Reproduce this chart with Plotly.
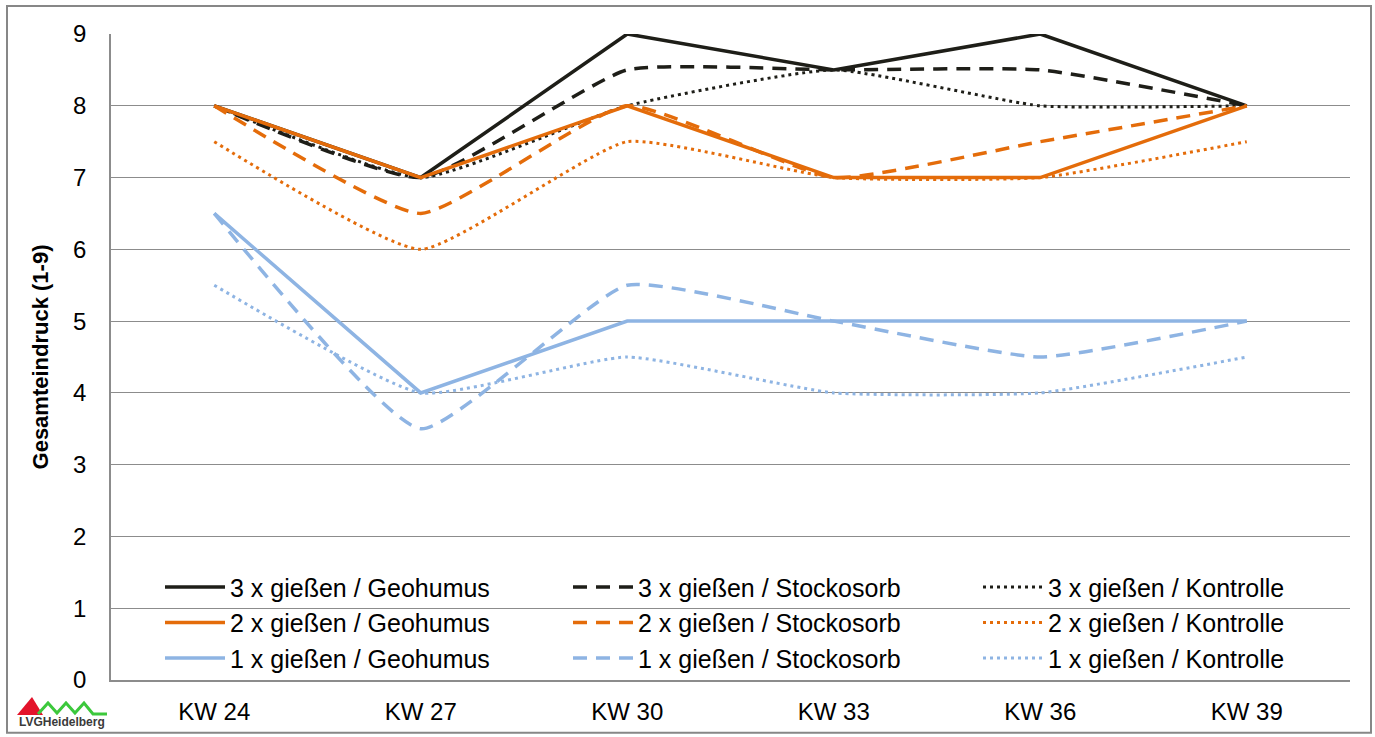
import plotly.graph_objects as go

weeks = ["KW 24", "KW 27", "KW 30", "KW 33", "KW 36", "KW 39"]

g3_geohumus = [8, 7, 9, 8.5, 9, 8]
g3_stockosorb = [8, 7, 8.5, 8.5, 8.5, 8]
g3_kontrolle = [8, 7, 8, 8.5, 8, 8]
g2_geohumus = [8, 7, 8, 7, 7, 8]
g2_stockosorb = [8, 6.5, 8, 7, 7.5, 8]
g2_kontrolle = [7.5, 6, 7.5, 7, 7, 7.5]
g1_geohumus = [6.5, 4, 5, 5, 5, 5]
g1_stockosorb = [6.5, 3.5, 5.5, 5, 4.5, 5]
g1_kontrolle = [5.5, 4, 4.5, 4, 4, 4.5]

names = [
    "3 x gießen / Geohumus", "3 x gießen / Stockosorb", "3 x gießen / Kontrolle",
    "2 x gießen / Geohumus", "2 x gießen / Stockosorb", "2 x gießen / Kontrolle",
    "1 x gießen / Geohumus", "1 x gießen / Stockosorb", "1 x gießen / Kontrolle",
]
series = [g3_geohumus, g3_stockosorb, g3_kontrolle,
          g2_geohumus, g2_stockosorb, g2_kontrolle,
          g1_geohumus, g1_stockosorb, g1_kontrolle]

BLACK = "#1E1E18"
ORANGE = "#E46C0A"
BLUE = "#8EB4E3"
colors = [BLACK] * 3 + [ORANGE] * 3 + [BLUE] * 3
styles = ["solid", "dash", "dot"] * 3
legends = ["legend", "legend2", "legend3"] * 3

W, H = 1375, 737
L, R, T, B = 111, 25, 34, 55
PW, PH = W - L - R, H - T - B


def px(x):
    return (x - L) / PW


def py(y):
    return (H - B - y) / PH


fig = go.Figure()
for i, (nm, vals) in enumerate(zip(names, series)):
    st = styles[i]
    if st == "solid":
        line = dict(color=colors[i], width=3.5, shape="linear")
    elif st == "dash":
        line = dict(color=colors[i], width=3.5, dash="14px,9px", shape="spline", smoothing=0.45)
    else:
        line = dict(color=colors[i], width=3, dash="3px,4px", shape="spline", smoothing=0.45)
    fig.add_trace(go.Scatter(
        x=weeks, y=vals, mode="lines", name=nm, line=line,
        legend=legends[i], legendgroup=nm, hoverinfo="skip",
    ))

FONT = "Liberation Sans, Arial, sans-serif"
leg_common = dict(
    orientation="v", xanchor="left", yanchor="top", y=py(566),
    bgcolor="rgba(0,0,0,0)", font=dict(family=FONT, size=25, color="#000000"),
    tracegroupgap=12.5, itemwidth=60, traceorder="normal",
)

shapes = [
    # outer frame
    dict(type="rect", xref="paper", yref="paper", x0=px(7), x1=px(1371), y0=py(735), y1=py(6),
         line=dict(color="#878787", width=2), fillcolor="rgba(0,0,0,0)", layer="below"),
    # logo triangle
    dict(type="path", xref="paper", yref="paper",
         path=f"M {px(17)},{py(717)} L {px(32)},{py(699)} L {px(43)},{py(717)} Z",
         fillcolor="#E3132B", line=dict(width=0)),
    # logo zigzag
    dict(type="path", xref="paper", yref="paper",
         path=(f"M {px(38)},{py(716)} L {px(48)},{py(705)} L {px(57)},{py(715)} L {px(66)},{py(705)} "
               f"L {px(75)},{py(715)} L {px(84)},{py(705)} L {px(93)},{py(716)} L {px(107)},{py(716)}"),
         line=dict(color="#3CC83C", width=3)),
]

fig.update_layout(
    width=W, height=H,
    margin=dict(l=L, r=R, t=T, b=B),
    paper_bgcolor="white", plot_bgcolor="white",
    font=dict(family=FONT, size=24, color="#000000"),
    legend=dict(x=px(160), **leg_common),
    legend2=dict(x=px(568), **leg_common),
    legend3=dict(x=px(978), **leg_common),
    xaxis=dict(
        type="category", range=[-0.5, 5.5], showgrid=False,
        showline=True, linecolor="#8C8C8C", linewidth=1.5, ticks="",
        tickfont=dict(family=FONT, size=24, color="#000000"), ticklabelstandoff=9,
        zeroline=False,
    ),
    yaxis=dict(
        range=[0, 9], dtick=1, showgrid=True, gridcolor="#8C8C8C", gridwidth=1.2,
        showline=True, linecolor="#8C8C8C", linewidth=1.5, ticks="",
        tickfont=dict(family=FONT, size=24, color="#000000"), ticklabelstandoff=18,
        zeroline=False,
        title=dict(text="<b>Gesamteindruck (1-9)</b>", font=dict(family=FONT, size=22, color="#000000"),
                   standoff=18),
    ),
    shapes=shapes,
    annotations=[
        dict(xref="paper", yref="paper", x=px(62), y=py(724), xanchor="center", yanchor="middle",
             text="<b>LVG</b><b>Heidelberg</b>", showarrow=False,
             font=dict(family=FONT, size=12, color="#3A3A3A")),
    ],
    showlegend=True,
)

fig.write_html(
    "out.html",
    config={"displayModeBar": False},
    post_script="document.body.style.margin='0';document.body.style.overflow='hidden';",
)
